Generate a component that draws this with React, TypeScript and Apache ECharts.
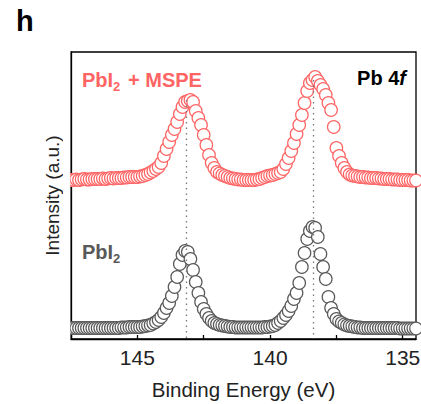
import React, { useEffect, useRef } from "react";
import * as echarts from "echarts";

const energies = [
  147.5, 147.4, 147.3, 147.2, 147.1, 147.0, 146.9, 146.8, 146.7, 146.6,
  146.5, 146.4, 146.3, 146.2, 146.1, 146.0, 145.9, 145.8, 145.7, 145.6,
  145.5, 145.4, 145.3, 145.2, 145.1, 145.0, 144.9, 144.8, 144.7, 144.6,
  144.5, 144.4, 144.3, 144.2, 144.1, 144.0, 143.9, 143.8, 143.7, 143.6,
  143.5, 143.4, 143.3, 143.2, 143.1, 143.0, 142.9, 142.8, 142.7, 142.6,
  142.5, 142.4, 142.3, 142.2, 142.1, 142.0, 141.9, 141.8, 141.7, 141.6,
  141.5, 141.4, 141.3, 141.2, 141.1, 141.0, 140.9, 140.8, 140.7, 140.6,
  140.5, 140.4, 140.3, 140.2, 140.1, 140.0, 139.9, 139.8, 139.7, 139.6,
  139.5, 139.4, 139.3, 139.2, 139.1, 139.0, 138.9, 138.8, 138.7, 138.6,
  138.5, 138.4, 138.3, 138.2, 138.1, 138.0, 137.9, 137.8, 137.7, 137.6,
  137.5, 137.4, 137.3, 137.2, 137.1, 137.0, 136.9, 136.8, 136.7, 136.6,
  136.5, 136.4, 136.3, 136.2, 136.1, 136.0, 135.9, 135.8, 135.7, 135.6,
  135.5, 135.4, 135.3, 135.2, 135.1, 135.0, 134.9, 134.8, 134.7, 134.6,
  134.5,
];

const pbi2 = [
  11, 11, 11, 11, 11, 11, 11, 11, 11, 11,
  11, 11, 11, 11, 11, 11, 11, 11, 11, 11.5,
  11.5, 11.5, 12, 12, 12, 12, 12, 12.5, 13, 13.5,
  14, 15.5, 17, 19, 22, 26, 31, 36, 43, 52,
  62, 75, 84, 88, 87, 80, 69, 57, 46, 37,
  30, 25, 21, 18, 16, 15, 14, 13.5, 13, 12.5,
  12, 12, 11.5, 11.5, 11.5, 11.5, 11.5, 11.5, 11.5, 11.5,
  11.5, 11.5, 11.5, 12, 12, 12.5, 13, 14, 16, 18,
  21, 24, 28, 33, 40, 46, 56, 72, 86, 100,
  108, 112, 111, 102, 85, 72, 60, 42, 31, 25,
  20, 17.5, 16, 14.5, 13.5, 13, 12.5, 12, 11.5, 11.5,
  11, 11, 11, 11, 11, 11, 11, 11, 11, 11,
  11, 11, 11, 11, 10.5, 10.5, 10.5, 10.5, 10.5, 10.5,
  10.5,
];

const pbi2Mspe = [
  159, 159, 159.5, 159, 159.5, 160, 159.5, 159.5, 160, 160,
  160, 160, 160.5, 160, 160.5, 161, 160.5, 161, 161, 161,
  161.5, 161.5, 162, 162, 162, 162, 162.5, 163, 164, 165,
  166.5, 168, 170, 172, 176, 183, 190, 197, 204, 210,
  217, 225, 232, 237, 238, 239, 237, 228, 221, 214,
  204, 194, 184, 176, 171, 167, 165.5, 164, 163, 162,
  161, 160.5, 160, 159.5, 159.5, 159, 159, 159, 159, 159,
  159.5, 160, 161, 162, 163, 163.5, 164, 165, 166, 167,
  170, 175, 181, 188, 196, 205, 214, 224, 236, 248,
  256, 259, 262, 258, 254, 250, 244, 236, 229, 212,
  191, 183, 176, 171, 167, 164.5, 163.5, 163, 162.5, 162,
  162, 161.5, 161.5, 161, 161, 161, 160.5, 160.5, 160, 160,
  160, 159.5, 159.5, 159.5, 159, 159, 159, 159, 158.5, 158.5,
  158.5,
];

const peakLines = [143.17, 138.37];
const peakLineTops = [239, 259];
const xTickValues = [135, 137.5, 140, 142.5, 145, 147.5];
const xLabelValues = [135, 140, 145];

const FONT = "'Liberation Sans', Arial, sans-serif";
const RED = "#ff6464";
const GRAY = "#595959";

export default function App() {
  const ref = useRef<HTMLDivElement>(null);
  useEffect(() => {
    const chart = echarts.init(ref.current!, null, { renderer: "svg" });
    const lineStyle = { color: "#000", width: 1.3 };
    chart.setOption({
      animation: false,
      grid: {
        left: 71,
        right: 5,
        top: 52,
        bottom: 65,
        show: true,
        containLabel: false,
        outerBoundsMode: "none",
        borderColor: "#000",
        borderWidth: 1.3,
        backgroundColor: "transparent",
      },
      xAxis: {
        type: "value",
        inverse: true,
        min: 134.5,
        max: 147.5,
        axisLine: { show: true, lineStyle },
        axisTick: { show: true, inside: true, length: 4, customValues: xTickValues, lineStyle },
        axisLabel: {
          customValues: xLabelValues,
          fontSize: 21,
          color: "#222",
          margin: 8,
          fontFamily: FONT,
        },
        splitLine: { show: false },
        name: "Binding Energy (eV)",
        nameLocation: "middle",
        nameGap: 40,
        nameTextStyle: { fontSize: 20.5, color: "#222", fontFamily: FONT },
      },
      yAxis: {
        type: "value",
        min: 0,
        max: 287,
        axisLine: { show: true, lineStyle },
        axisTick: { show: false },
        axisLabel: { show: false },
        splitLine: { show: false },
        name: "Intensity (a.u.)",
        nameLocation: "middle",
        nameGap: 9,
        nameTextStyle: { fontSize: 19, color: "#222", fontFamily: FONT },
      },
      series: [
        {
          type: "scatter",
          data: energies.map((e, i) => [e, pbi2[i]]),
          symbol: "circle",
          symbolSize: 12.5,
          clip: true,
          silent: true,
          itemStyle: { color: "#fff", borderColor: GRAY, borderWidth: 1.2, opacity: 1 },
        },
        {
          type: "scatter",
          data: energies.map((e, i) => [e, pbi2Mspe[i]]),
          symbol: "circle",
          symbolSize: 12.5,
          clip: true,
          silent: true,
          itemStyle: { color: "#fff", borderColor: RED, borderWidth: 1.2, opacity: 1 },
          markLine: {
            silent: true,
            symbol: ["none", "none"],
            label: { show: false },
            lineStyle: { type: [1.5, 4], color: "#777", width: 1.3 },
            data: peakLines.map((e, i) => [
              { coord: [e, peakLineTops[i]] },
              { coord: [e, 0] },
            ]),
          },
        },
      ],
      graphic: [
        {
          type: "rect",
          z: 100,
          silent: true,
          shape: { x: 63, y: 45, width: 7.2, height: 300 },
          style: { fill: "#fff" },
        },
        {
          type: "text",
          left: 16,
          top: 6,
          style: { text: "h", font: `bold 29px ${FONT}`, fill: "#000" },
        },
        {
          type: "text",
          x: 82,
          y: 80,
          style: { text: "PbI", font: `bold 20px ${FONT}`, fill: RED, verticalAlign: "middle" },
        },
        {
          type: "text",
          x: 113,
          y: 86,
          style: { text: "2", font: `bold 13px ${FONT}`, fill: RED, verticalAlign: "middle" },
        },
        {
          type: "text",
          x: 128,
          y: 80,
          style: { text: "+ MSPE", font: `bold 20px ${FONT}`, fill: RED, verticalAlign: "middle" },
        },
        {
          type: "text",
          x: 82,
          y: 252,
          style: { text: "PbI", font: `bold 20px ${FONT}`, fill: GRAY, verticalAlign: "middle" },
        },
        {
          type: "text",
          x: 113,
          y: 258,
          style: { text: "2", font: `bold 13px ${FONT}`, fill: GRAY, verticalAlign: "middle" },
        },
        {
          type: "text",
          x: 406,
          y: 78,
          style: {
            text: "{a|Pb 4}{b|f}",
            align: "right",
            verticalAlign: "middle",
            rich: {
              a: { fontSize: 20, fontWeight: "bold", fontFamily: FONT, color: "#000" },
              b: { fontSize: 20, fontWeight: "bold", fontStyle: "italic", fontFamily: FONT, color: "#000" },
            },
          },
        },
      ],
    });
    return () => chart.dispose();
  }, []);
  return (
    <div
      ref={ref}
      style={{ position: "absolute", left: 0, top: 0, width: 421, height: 404 }}
    />
  );
}
